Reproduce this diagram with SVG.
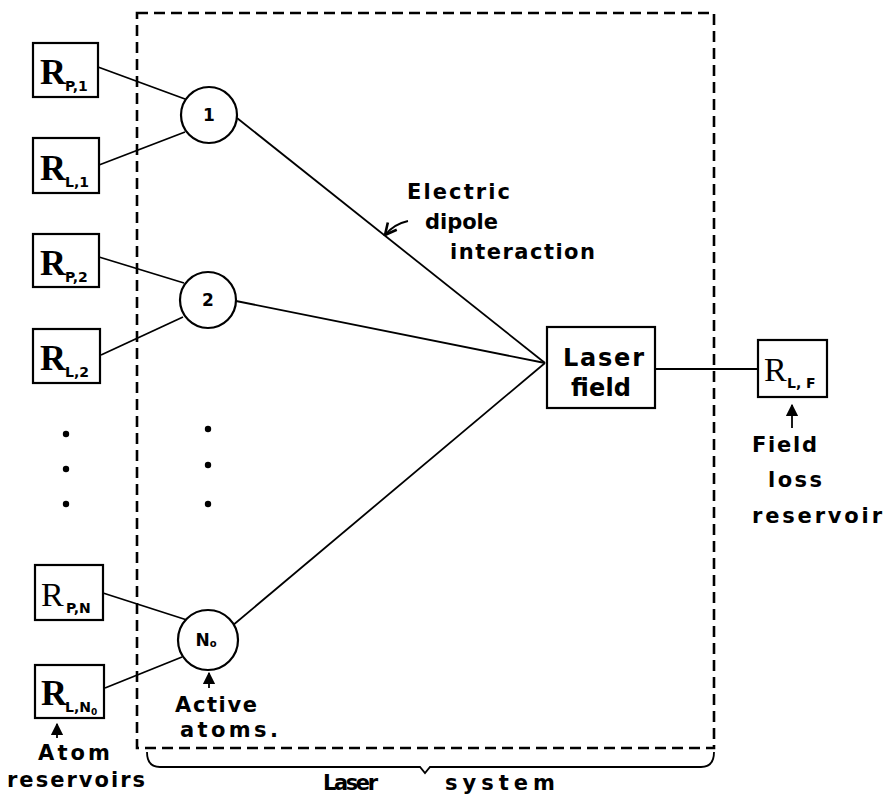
<svg xmlns="http://www.w3.org/2000/svg" width="885" height="808" viewBox="0 0 885 808">
<defs>
<style>
.box{fill:#fff;stroke:#000;stroke-width:2.2}
.atom{fill:#fff;stroke:#000;stroke-width:2.2}
.ln{stroke:#000;stroke-width:1.8;fill:none}
.dash{fill:none;stroke:#000;stroke-width:2.6;stroke-dasharray:11,6}
.lbl{font-family:"DejaVu Sans","Liberation Sans",sans-serif;font-size:21px;font-weight:bold;fill:#000}
.big{font-size:24px}
.R{font-family:"Liberation Serif","DejaVu Serif",serif;font-size:36px;font-weight:bold;fill:#000}
.Rn{font-family:"Liberation Serif","DejaVu Serif",serif;font-size:34px;fill:#000}
.sub{font-family:"DejaVu Sans","Liberation Sans",sans-serif;font-size:14px;font-weight:bold;fill:#000}
.num{font-family:"DejaVu Sans","Liberation Sans",sans-serif;font-size:17px;font-weight:bold;fill:#000;text-anchor:middle}
</style>
<marker id="ah" viewBox="0 0 10 10" refX="9" refY="5" markerWidth="7" markerHeight="7" orient="auto">
<path d="M0,0 L10,5 L0,10 z" fill="#000"/>
</marker>
<marker id="chev" viewBox="0 0 10 10" refX="9" refY="5" markerWidth="8" markerHeight="8" orient="auto">
<path d="M1,1 L9,5 L1,9" fill="none" stroke="#000" stroke-width="1.8"/>
</marker>
</defs>
<rect width="885" height="808" fill="#fff"/>

<g id="laser-system-boundary">
<rect class="dash" x="137" y="13" width="577" height="735"/>
<path class="ln" stroke-width="2.2" d="M147,752 Q147,767 160,767 L420,767 L425,773 L430,767 L701,767 Q714,767 714,752"/>
</g>

<g id="connectors">
<line class="ln" x1="98" y1="67" x2="185" y2="99"/>
<line class="ln" x1="99" y1="165" x2="185" y2="132"/>
<line class="ln" x1="237" y1="118" x2="545" y2="363"/>
<line class="ln" x1="99" y1="257" x2="184" y2="283"/>
<line class="ln" x1="101" y1="355" x2="183" y2="317"/>
<line class="ln" x1="236" y1="301" x2="545" y2="363"/>
<line class="ln" x1="103" y1="593" x2="187" y2="620"/>
<line class="ln" x1="105" y1="688" x2="182" y2="657"/>
<line class="ln" x1="232" y1="626" x2="545" y2="363"/>
<line class="ln" x1="655" y1="369" x2="758" y2="369"/>
<path class="ln" d="M408,221 Q394,224 385,235" marker-end="url(#chev)"/>
<line class="ln" x1="57" y1="738" x2="57" y2="724" marker-end="url(#ah)"/>
<line class="ln" x1="209" y1="688" x2="209" y2="673" marker-end="url(#ah)"/>
<line class="ln" x1="792" y1="428" x2="792" y2="405" marker-end="url(#ah)"/>
</g>

<g id="R_P1"><rect class="box" x="33" y="43" width="65" height="54"/><text class="R" x="40" y="84">R</text><text class="sub" x="65" y="91">P,1</text></g>
<g id="R_L1"><rect class="box" x="33" y="138" width="66" height="55"/><text class="R" x="40" y="180">R</text><text class="sub" x="65" y="187">L,1</text></g>
<g id="R_P2"><rect class="box" x="33" y="234" width="66" height="53"/><text class="R" x="40" y="275">R</text><text class="sub" x="65" y="282">P,2</text></g>
<g id="R_L2"><rect class="box" x="33" y="329" width="67" height="54"/><text class="R" x="40" y="370">R</text><text class="sub" x="65" y="377">L,2</text></g>
<g id="R_PN"><rect class="box" x="35" y="565" width="68" height="55"/><text class="Rn" x="41" y="606">R</text><text class="sub" x="66" y="613">P,N</text></g>
<g id="R_LN0"><rect class="box" x="35" y="665" width="69" height="53"/><text class="R" x="41" y="705">R</text><text class="sub" x="65" y="712">L,N<tspan font-size="9" dy="3">0</tspan></text></g>

<g id="atom1"><circle class="atom" cx="209" cy="115" r="28"/><text class="num" x="209" y="121">1</text></g>
<g id="atom2"><circle class="atom" cx="208" cy="300" r="28"/><text class="num" x="208" y="306">2</text></g>
<g id="atomN0"><circle class="atom" cx="208" cy="640" r="30"/><text class="num" x="206" y="646">N<tspan font-size="10" dy="1">o</tspan></text></g>

<g id="dots">
<circle cx="66" cy="434" r="3.2"/><circle cx="66" cy="469" r="3.2"/><circle cx="66" cy="504" r="3.2"/>
<circle cx="208" cy="429" r="3.2"/><circle cx="208" cy="465" r="3.2"/><circle cx="208" cy="504" r="3.2"/>
</g>

<g id="laser-field"><rect class="box" x="547" y="327" width="108" height="81"/>
<text class="lbl big" x="563" y="366" textLength="81">Laser</text>
<text class="lbl big" x="571" y="396" textLength="60">field</text></g>

<g id="R_LF"><rect class="box" x="758" y="340" width="69" height="57"/><text class="Rn" x="764" y="381">R</text><text class="sub" x="787" y="388">L, F</text></g>

<g id="labels">
<text class="lbl" x="407" y="199" textLength="103">Electric</text>
<text class="lbl" x="425" y="229" textLength="73">dipole</text>
<text class="lbl" x="450" y="259" textLength="145">interaction</text>
<text class="lbl" x="752" y="452" textLength="65">Field</text>
<text class="lbl" x="768" y="487" textLength="54">loss</text>
<text class="lbl" x="752" y="523" textLength="130">reservoir</text>
<text class="lbl" x="175" y="712" textLength="82">Active</text>
<text class="lbl" x="180" y="737" textLength="98">atoms.</text>
<text class="lbl" x="38" y="760" textLength="72">Atom</text>
<text class="lbl" x="7" y="787" textLength="138">reservoirs</text>
<text class="lbl" x="323" y="790" textLength="55">Laser</text>
<text class="lbl" x="445" y="790" textLength="110">system</text>
</g>
</svg>
